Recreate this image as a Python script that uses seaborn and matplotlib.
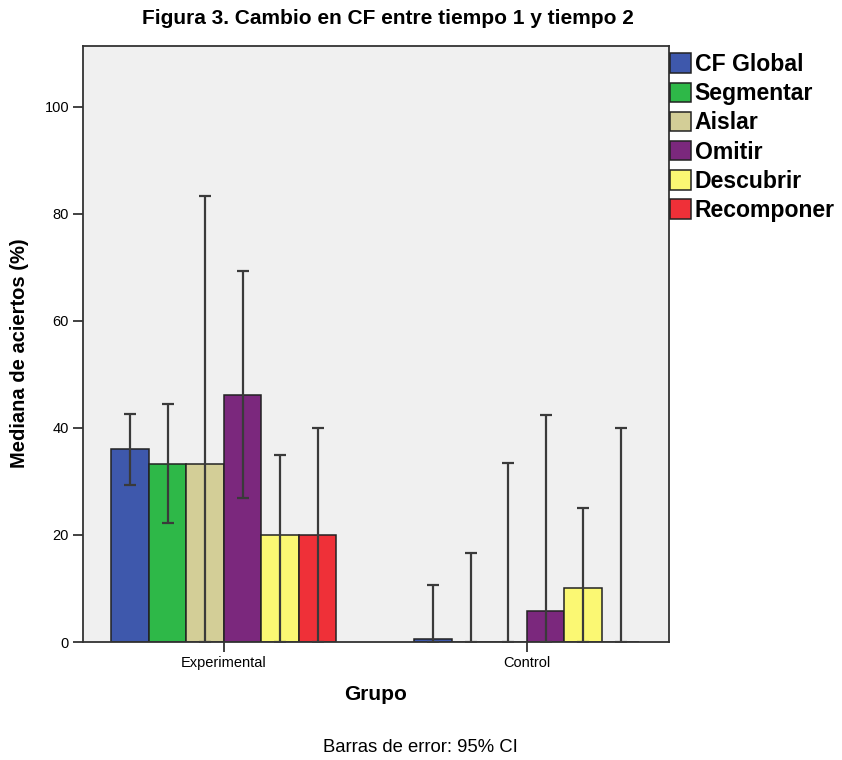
import numpy as np
import pandas as pd
import matplotlib
matplotlib.use("Agg")
import matplotlib.pyplot as plt
import seaborn as sns

grupos = ["Experimental", "Control"]
medidas = ["CF Global", "Segmentar", "Aislar", "Omitir", "Descubrir", "Recomponer"]
colores = ["#3E58AC", "#2EB848", "#D3CE97", "#7B287D", "#FBF873", "#EF3038"]

exp_mediana = [36.1, 33.3, 33.3, 46.2, 20.0, 20.0]
exp_ic_inf = [29.3, 22.2, 0.0, 26.9, 0.0, 0.0]
exp_ic_sup = [42.7, 44.5, 83.3, 69.3, 35.0, 40.0]

ctl_mediana = [0.6, 0.0, 0.0, 5.8, 10.0, 0.0]
ctl_ic_inf = [0.0, 0.0, 0.0, 0.0, 0.0, 0.0]
ctl_ic_sup = [10.6, 16.6, 33.4, 42.4, 25.0, 40.0]

rows = []
for g, med, lo, hi in [("Experimental", exp_mediana, exp_ic_inf, exp_ic_sup),
                       ("Control", ctl_mediana, ctl_ic_inf, ctl_ic_sup)]:
    for m, v, l, h in zip(medidas, med, lo, hi):
        rows.append({"Grupo": g, "Medida": m, "Mediana": v, "lo": l, "hi": h})
df = pd.DataFrame(rows)

sns.set_style("white")
plt.rcParams["font.family"] = ["Liberation Sans", "DejaVu Sans"]
plt.rcParams["text.color"] = "black"
plt.rcParams["xtick.color"] = "black"
plt.rcParams["ytick.color"] = "black"

fig = plt.figure(figsize=(8.42, 7.6), dpi=100)
ax = fig.add_axes([83/842, 1-642/760, 586/842, 596/760])
ax.set_facecolor("#F0F0F0")

sns.barplot(data=df, x="Grupo", y="Mediana", hue="Medida", order=grupos,
            hue_order=medidas, palette=colores, errorbar=None, width=0.743,
            gap=0, edgecolor="#222222", linewidth=1.1, saturation=1, ax=ax)

# error bars positioned at the bars seaborn drew (hue-major order)
for i, m in enumerate(medidas):
    for j, g in enumerate(grupos):
        p = ax.patches[i*len(grupos) + j]
        row = df[(df.Grupo == g) & (df.Medida == m)].iloc[0]
        xc = p.get_x() + p.get_width()/2
        ax.errorbar([xc], [row.Mediana],
                    yerr=[[row.Mediana - row.lo], [row.hi - row.Mediana]],
                    fmt="none", ecolor="#3a3a3a", elinewidth=1.6,
                    capsize=4, capthick=1.6, zorder=5)

ax.set_xlim(-0.465, 1.469)
ax.set_ylim(0, 111.4)
ax.set_yticks([0, 20, 40, 60, 80, 100])
ax.set_xlabel("")
ax.set_ylabel("")
ax.tick_params(axis="both", direction="out", length=7, width=1.3,
               color="#333333", labelcolor="black", labelsize=10.5, pad=3,
               left=True, bottom=True)
for s in ax.spines.values():
    s.set_color("#333333")
    s.set_linewidth(1.3)

handles, labels = ax.get_legend_handles_labels()
leg = ax.legend(handles, labels, loc="upper left",
                bbox_to_anchor=(670/842, 1-53/760),
                bbox_transform=fig.transFigure, frameon=False, borderpad=0,
                borderaxespad=0, handlelength=0.92, handleheight=0.92,
                handletextpad=0.15, labelspacing=0.27,
                prop={"size": 16.6, "weight": "bold"})
for t in leg.get_texts():
    t.set_color("black")

fig.text(388/842, 1-18/760, "Figura 3. Cambio en CF entre tiempo 1 y tiempo 2",
         ha="center", va="center", fontsize=15, fontweight="bold", color="black")
fig.text(20/842, 1-353/760, "Mediana de aciertos (%)", rotation=90,
         ha="center", va="center", fontsize=14.5, fontweight="bold", color="black")
fig.text(376/842, 1-695/760, "Grupo", ha="center", va="center",
         fontsize=15, fontweight="bold", color="black")
fig.text(420/842, 1-747/760, "Barras de error: 95% CI", ha="center",
         va="center", fontsize=13.3, color="black")

fig.savefig("out.png", dpi=100, facecolor="white")
